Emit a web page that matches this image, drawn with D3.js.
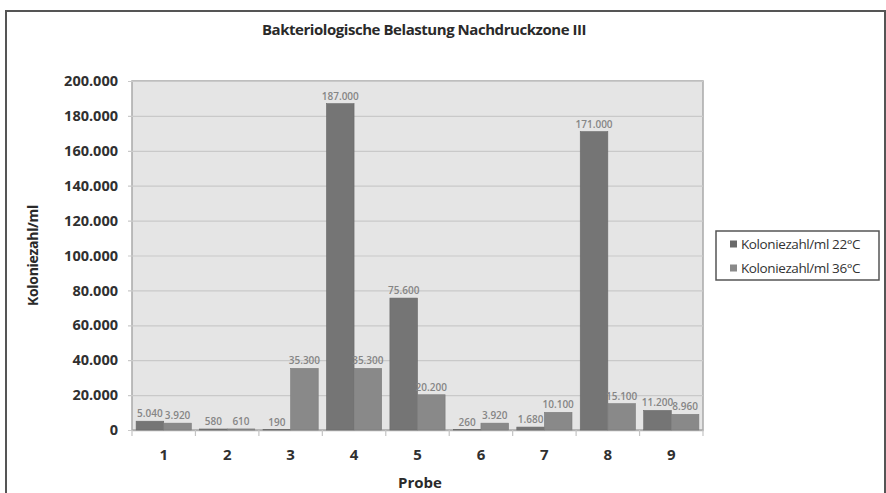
<!DOCTYPE html>
<html>
<head>
<meta charset="utf-8">
<script src="https://cdn.jsdelivr.net/npm/d3@7"></script>
<style>
  html, body { margin: 0; padding: 0; background: #fff; }
  svg { display: block; font-family: "Open Sans", "DejaVu Sans", sans-serif; }
</style>
</head>
<body>
<svg id="chart" width="886" height="493"></svg>
<script>
// Proben und Koloniezahlen je Temperatur
const categories = ["1", "2", "3", "4", "5", "6", "7", "8", "9"];
const seriesNames = ["Koloniezahl/ml 22°C", "Koloniezahl/ml 36°C"];
const values22 = [5040, 580, 190, 187000, 75600, 260, 1680, 171000, 11200];
const values36 = [3920, 610, 35300, 35300, 20200, 3920, 10100, 15100, 8960];
const yTicks = [0, 20000, 40000, 60000, 80000, 100000, 120000, 140000, 160000, 180000, 200000];
const colors = ["#757575", "#898989"];

const de = d3.formatLocale({ decimal: ",", thousands: ".", grouping: [3], currency: ["", " €"] });
const fmt = de.format(",d");

const svg = d3.select("#chart");
const plot = { left: 132, right: 703, top: 81, bottom: 430 };

// Außenrahmen
svg.append("rect")
  .attr("x", 6).attr("y", 11)
  .attr("width", 879).attr("height", 500)
  .attr("fill", "#fff")
  .attr("stroke", "#555").attr("stroke-width", 2);

// Titel
svg.append("text")
  .attr("x", 424).attr("y", 35)
  .attr("text-anchor", "middle")
  .attr("font-size", 15).attr("font-weight", 700)
  .attr("fill", "#2a2a2a")
  .attr("letter-spacing", -0.45)
  .text("Bakteriologische Belastung Nachdruckzone III");

const x0 = d3.scaleBand().domain(categories)
  .range([plot.left, plot.right]).paddingInner(0.13).paddingOuter(0.065);
const x1 = d3.scaleBand().domain([0, 1]).range([0, x0.bandwidth()]);
const y = d3.scaleLinear().domain([0, 200000]).range([plot.bottom, plot.top]);

// Zeichenfläche
svg.append("rect")
  .attr("x", plot.left).attr("y", plot.top)
  .attr("width", plot.right - plot.left).attr("height", plot.bottom - plot.top)
  .attr("fill", "#e5e5e5").attr("stroke", "#a9a9a9").attr("stroke-width", 1.5);

// Gitterlinien und Y-Achse
const yAxis = d3.axisLeft(y).tickValues(yTicks)
  .tickSize(-(plot.right - plot.left + 4)).tickPadding(10)
  .tickFormat(d => fmt(d));
const gy = svg.append("g").attr("transform", `translate(${plot.left - 4},0)`).call(yAxis);
gy.select(".domain").remove();
gy.selectAll(".tick line").attr("stroke", "#c9c9c9").attr("stroke-width", 1.2);
gy.selectAll(".tick text")
  .attr("font-size", 14.5).attr("font-weight", 700).attr("fill", "#303030")
  .attr("font-family", "'Open Sans', sans-serif");

// X-Achse
const xAxis = d3.axisBottom(x0).tickSize(0).tickPadding(19);
const gx = svg.append("g").attr("transform", `translate(0,${plot.bottom})`).call(xAxis);
gx.select(".domain").attr("stroke", "#b0b0b0").attr("stroke-width", 1.5);
gx.selectAll(".tick text")
  .attr("font-size", 15).attr("font-weight", 700).attr("fill", "#303030")
  .attr("font-family", "'Open Sans', sans-serif");

// Trennstriche zwischen den Proben
const bounds = d3.range(categories.length + 1).map(i => plot.left + i * (plot.right - plot.left) / categories.length);
svg.append("g").selectAll("line").data(bounds).join("line")
  .attr("x1", d => d).attr("x2", d => d)
  .attr("y1", plot.bottom).attr("y2", plot.bottom + 6)
  .attr("stroke", "#c4c4c4").attr("stroke-width", 1.2);

// Balken
const series = [values22, values36];
const groups = svg.append("g").selectAll("g")
  .data(categories).join("g")
  .attr("transform", d => `translate(${x0(d)},0)`);

groups.selectAll("rect")
  .data((d, i) => series.map((s, k) => ({ k, v: s[i] })))
  .join("rect")
  .attr("x", d => x1(d.k))
  .attr("y", d => y(d.v))
  .attr("width", x1.bandwidth())
  .attr("height", d => plot.bottom - y(d.v))
  .attr("fill", d => colors[d.k])
  .attr("stroke", d => d3.color(colors[d.k]).darker(0.3))
  .attr("stroke-width", 0.6);

groups.selectAll("text")
  .data((d, i) => series.map((s, k) => ({ k, v: s[i] })))
  .join("text")
  .attr("x", d => x1(d.k) + x1.bandwidth() / 2)
  .attr("y", d => y(d.v) - 4)
  .attr("text-anchor", "middle")
  .attr("font-size", 10)
  .attr("font-weight", 600)
  .attr("fill", "#858585")
  .text(d => fmt(d.v));

// Achsentitel
svg.append("text")
  .attr("transform", `translate(38,${(plot.top + plot.bottom) / 2}) rotate(-90)`)
  .attr("text-anchor", "middle")
  .attr("font-size", 14).attr("font-weight", 700).attr("fill", "#2a2a2a")
  .attr("letter-spacing", -0.3)
  .text("Koloniezahl/ml");

svg.append("text")
  .attr("x", 420).attr("y", 488)
  .attr("text-anchor", "middle")
  .attr("font-size", 15).attr("font-weight", 700).attr("fill", "#2a2a2a")
  .text("Probe");

// Legende
const lg = svg.append("g").attr("transform", "translate(716,231)");
lg.append("rect").attr("width", 163).attr("height", 49)
  .attr("fill", "#fff").attr("stroke", "#555").attr("stroke-width", 1.5);
seriesNames.forEach((name, i) => {
  const row = lg.append("g").attr("transform", `translate(14,${13 + i * 24})`);
  row.append("rect").attr("x", 0).attr("y", -3.5).attr("width", 7).attr("height", 7)
    .attr("fill", i === 0 ? "#6a6a6a" : "#8a8a8a");
  row.append("text").attr("x", 11).attr("y", 0).attr("dy", "0.35em")
    .attr("font-size", 13.5).attr("fill", "#333").attr("letter-spacing", -0.4)
    .text(name);
});
</script>
</body>
</html>
